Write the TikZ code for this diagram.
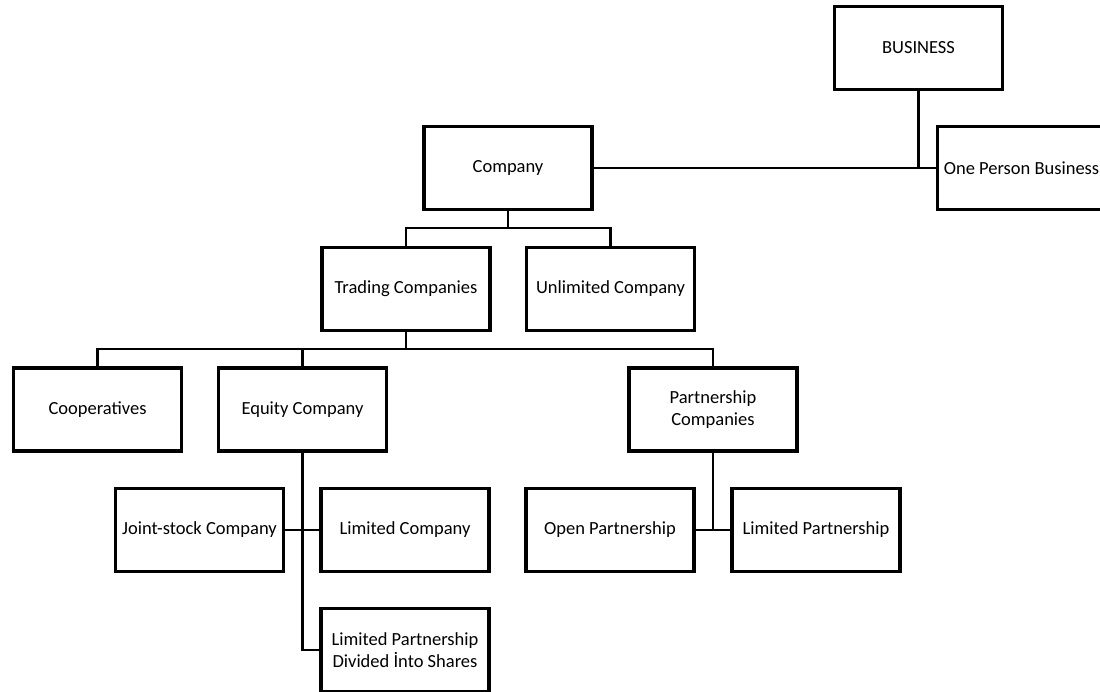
\documentclass[tikz,border=0pt]{standalone}
\usepackage{fontspec}
\setmainfont{Carlito}
\begin{document}
\begin{tikzpicture}[x=1pt,y=-1pt,
    box/.style={draw,line width=3.2pt,minimum width=168pt,minimum height=83pt,
      align=center,inner sep=2pt,font=\fontsize{18.5}{21.5}\selectfont},
    link/.style={line width=2.2pt}]
    \useasboundingbox (0,0) rectangle (1100,692);
    % top level
    \node[box] (business) at (918.5,48) {BUSINESS};
    \node[box] (company) at (508,168) {Company};
    \node[box] (oneperson) at (1021.5,168) {One Person Business};
    % second level
    \node[box] (trading) at (406,289) {Trading Companies};
    \node[box] (unlimited) at (610.5,289) {Unlimited Company};
    % third level
    \node[box] (coop) at (97.5,409.5) {Cooperatives};
    \node[box] (equity) at (302.5,409.5) {Equity Company};
    \node[box] (partner) at (713,409.5) {Partnership\\Companies};
    % fourth level
    \node[box] (jointstock) at (199.5,530) {Joint-stock Company};
    \node[box] (limitedco) at (405,530) {Limited Company};
    \node[box] (openpart) at (610,530) {Open Partnership};
    \node[box] (limitedpart) at (816,530) {Limited Partnership};
    \node[box] (lpshares) at (405,650) {Limited Partnership\\Divided İnto Shares};
    % connectors
    \draw[link] (company.east) -- (oneperson.west);
    \draw[link] (business.south) -- (business.south |- company.east);
    \coordinate (cbar) at (508,228);
    \draw[link] (company.south) -- (cbar);
    \foreach \n in {trading,unlimited}
      \draw[link] (cbar) -| (\n.north);
    \coordinate (tbar) at (406,349);
    \draw[link] (trading.south) -- (tbar);
    \foreach \n in {coop,equity,partner}
      \draw[link] (tbar) -| (\n.north);
    \draw[link] (equity.south) |- (lpshares.west);
    \draw[link] (jointstock.east) -- (limitedco.west);
    \draw[link] (partner.south) -- (partner.south |- openpart.east);
    \draw[link] (openpart.east) -- (limitedpart.west);
\end{tikzpicture}
\end{document}
